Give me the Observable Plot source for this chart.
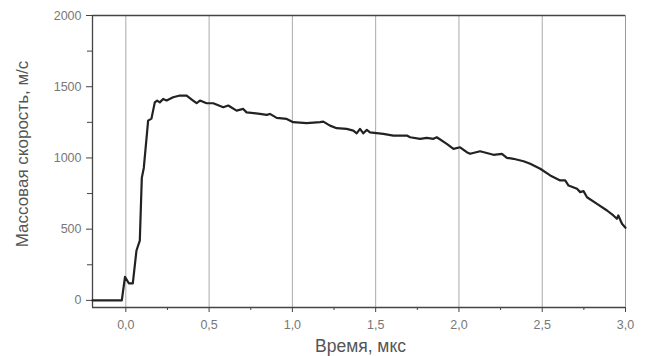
<!DOCTYPE html>
<html><head><meta charset="utf-8">
<script src="https://cdn.jsdelivr.net/npm/d3@7"></script>
<script src="https://cdn.jsdelivr.net/npm/@observablehq/plot@0.6"></script>
<style>
body{margin:0;background:#fff;}
</style>
</head><body><div id="c"></div>
<script>
const time = [-0.2,-0.024,-0.005,0.018,0.042,0.064,0.084,0.096,0.108,0.134,0.154,0.174,0.188,0.204,0.224,0.245,0.284,0.325,0.365,0.404,0.425,0.445,0.485,0.525,0.585,0.615,0.665,0.705,0.725,0.805,0.846,0.865,0.906,0.966,1.005,1.086,1.166,1.186,1.226,1.266,1.326,1.366,1.386,1.406,1.426,1.447,1.466,1.546,1.606,1.687,1.707,1.767,1.807,1.847,1.867,1.927,1.967,2.007,2.047,2.067,2.127,2.207,2.258,2.288,2.327,2.388,2.428,2.488,2.548,2.608,2.638,2.658,2.709,2.728,2.748,2.769,2.829,2.889,2.927,2.948,2.957,2.979,3.0];
const velocity = [0,0,165,120,120,350,420,860,930,1262,1276,1390,1403,1390,1414,1403,1426,1438,1438,1403,1384,1403,1384,1384,1356,1368,1332,1344,1320,1309,1302,1309,1281,1274,1251,1244,1251,1255,1227,1209,1204,1192,1173,1204,1173,1197,1180,1169,1157,1157,1145,1134,1141,1134,1145,1099,1064,1075,1040,1029,1047,1022,1029,1001,994,977,959,924,877,842,842,806,783,760,767,724,678,631,596,573,596,538,510];
const xMajor = [0,0.5,1.0,1.5,2.0,2.5,3.0];
const xMinor = [0.25,0.75,1.25,1.75,2.25,2.75];
const yMajor = [0,500,1000,1500,2000];
const yMinor = [250,750,1250,1750];
const xLabel = "Время, мкс";
const yLabel = "Массовая скорость, м/с";

const data = time.map((t,i)=>({t, v: velocity[i]}));
const fmtX = d => d3.format(".1f")(d).replace(".", ",");
const fmtY = d => String(d);
const blank = () => "";

const chart = Plot.plot({
  width: 647, height: 356,
  marginLeft: 92, marginRight: 22, marginTop: 15, marginBottom: 49,
  style: {fontFamily: "'Liberation Sans', Arial, sans-serif", background: "#fff"},
  x: {domain: [-0.2, 3.0]},
  y: {domain: [-50, 2000]},
  marks: [
    Plot.ruleX(xMajor.slice(0,-1), {stroke: "#aaa", strokeWidth: 1}),
    Plot.ruleX([3.0], {stroke: "#999", strokeWidth: 1}),
    Plot.axisX({ticks: xMajor, tickFormat: fmtX, tickSize: 5, fontSize: 12.5, color: "#777", stroke:"#444",
      label: null, tickPadding: 8}),
    Plot.axisX({ticks: xMinor, tickFormat: blank, tickSize: 3, stroke: "#444", label: null}),
    Plot.axisY({ticks: yMajor, tickFormat: fmtY, tickSize: 6, fontSize: 12.5, color: "#777", stroke:"#444",
      label: null, tickPadding: 5}),
    Plot.axisY({ticks: yMinor, tickFormat: blank, tickSize: 5, stroke: "#444", label: null}),
    Plot.ruleY([2000], {stroke: "#444", strokeWidth: 1.3}),
    Plot.ruleY([-50], {stroke: "#444", strokeWidth: 1.3}),
    Plot.ruleX([-0.2], {stroke: "#444", strokeWidth: 1.3}),
    Plot.line(data, {x: "t", y: "v", stroke: "#222", strokeWidth: 2.2, strokeLinejoin: "round"}),
    Plot.text([xLabel], {frameAnchor: "bottom", dx: 1.5, dy: 39, fontSize: 17.5, fill: "#555", lineAnchor: "middle", textAnchor: "middle"}),
    Plot.text([yLabel], {frameAnchor: "left", dx: -70, dy: -7.5, rotate: -90, fontSize: 17, fill: "#555", lineAnchor: "middle", textAnchor: "middle"})
  ]
});
document.getElementById("c").appendChild(chart);
</script>
</body></html>
